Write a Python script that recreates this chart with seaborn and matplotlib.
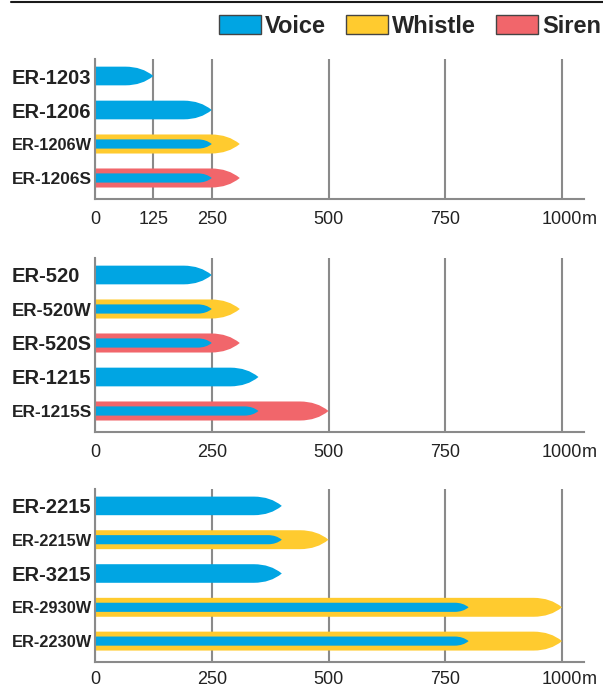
import matplotlib
matplotlib.use("Agg")
import matplotlib.pyplot as plt
import seaborn as sns
import pandas as pd
from matplotlib.patches import PathPatch, Patch
from matplotlib.path import Path
from matplotlib.lines import Line2D

# ---- data (ranges in metres) ----
models_1 = ["ER-1203", "ER-1206", "ER-1206W", "ER-1206S"]
voice_1 = [125, 250, 250, 250]
alarm_type_1 = [None, None, "Whistle", "Siren"]
alarm_1 = [0, 0, 310, 310]
ticks_1 = [0, 125, 250, 500, 750, 1000]

models_2 = ["ER-520", "ER-520W", "ER-520S", "ER-1215", "ER-1215S"]
voice_2 = [250, 250, 250, 350, 350]
alarm_type_2 = [None, "Whistle", "Siren", None, "Siren"]
alarm_2 = [0, 310, 310, 0, 500]
ticks_2 = [0, 250, 500, 750, 1000]

models_3 = ["ER-2215", "ER-2215W", "ER-3215", "ER-2930W", "ER-2230W"]
voice_3 = [400, 400, 400, 800, 800]
alarm_type_3 = [None, "Whistle", None, "Whistle", "Whistle"]
alarm_3 = [0, 500, 0, 1000, 1000]
ticks_3 = [0, 250, 500, 750, 1000]

colors = {"Voice": "#00a5e3", "Whistle": "#ffcb2f", "Siren": "#f1666b"}
grid_gray = "#8a8a8a"
text_col = "#222222"

sns.set_style("white")
plt.rcParams["font.family"] = ["Liberation Sans", "DejaVu Sans"]

W, H = 603, 689
fig = plt.figure(figsize=(W / 100, H / 100), dpi=100)

X_LEFT, X_RIGHT = 95, 584
XMAX = 1000 * (X_RIGHT - X_LEFT) / (562 - X_LEFT)
LABEL_X = 12      # left edge of the model names, px
LABEL_W = 80      # max width of a model name, px


def bulletize(ax, rect, tip=1.5):
    x0, y0 = rect.get_x(), rect.get_y()
    w, h = rect.get_width(), rect.get_height()
    (px0, py0), (px1, py1) = ax.transData.transform([(x0, y0), (x0 + w, y0 + h)])
    lo, hi = min(py0, py1), max(py0, py1)
    L = min(tip * (hi - lo), px1 - px0)
    yc = (lo + hi) / 2
    verts = [(px0, hi), (px1 - L, hi), (px1 - 0.4 * L, hi), (px1, yc),
             (px1 - 0.4 * L, lo), (px1 - L, lo), (px0, lo), (px0, hi)]
    codes = [Path.MOVETO, Path.LINETO, Path.CURVE3, Path.CURVE3,
             Path.CURVE3, Path.CURVE3, Path.LINETO, Path.CLOSEPOLY]
    verts = ax.transData.inverted().transform(verts)
    p = PathPatch(Path(verts, codes), facecolor=rect.get_facecolor(),
                  edgecolor="none", zorder=2)
    rect.remove()
    ax.add_patch(p)


def panel(top_px, models, voice, alarm_type, alarm, ticks, row=34.0, xpad=4.8):
    n = len(models)
    h_px = (n - 1 + 0.5 + 0.62) * row
    ax = fig.add_axes([X_LEFT / W, 1 - (top_px + h_px) / H,
                       (X_RIGHT - X_LEFT) / W, h_px / H])

    outer = pd.DataFrame({"model": [m for m, t in zip(models, alarm_type) if t],
                          "range": [a for a, t in zip(alarm, alarm_type) if t],
                          "signal": [t for t in alarm_type if t]})
    solo = pd.DataFrame({"model": [m for m, t in zip(models, alarm_type) if not t],
                         "range": [v for v, t in zip(voice, alarm_type) if not t],
                         "signal": "Voice"})
    inner = pd.DataFrame({"model": [m for m, t in zip(models, alarm_type) if t],
                          "range": [v for v, t in zip(voice, alarm_type) if t],
                          "signal": "Voice"})

    for df, wd in [(outer, 0.56), (solo, 0.55), (inner, 0.27)]:
        if len(df):
            sns.barplot(data=df, x="range", y="model", hue="signal", order=models,
                        palette=colors, orient="h", width=wd, dodge=False,
                        saturation=1, errorbar=None, linewidth=0, legend=False, ax=ax)

    ax.set_xlim(0, XMAX)
    ax.set_ylim(n - 1 + 0.62, -0.5)
    ax.set_xticks(ticks)
    ax.set_xticklabels([str(t) for t in ticks])
    ax.set_xlabel("")
    ax.set_ylabel("")
    ax.grid(axis="x", color=grid_gray, lw=1.5)
    ax.set_axisbelow(True)
    sns.despine(ax=ax)
    for s in ["left", "bottom"]:
        ax.spines[s].set_color(grid_gray)
        ax.spines[s].set_linewidth(1.5)
    ax.tick_params(axis="x", length=4, width=1.5, color=grid_gray, pad=xpad,
                   labelsize=13, labelcolor=text_col)
    ax.xaxis.get_major_ticks()[0].tick1line.set_visible(False)
    # model names left-aligned at LABEL_X
    ax.tick_params(axis="y", length=0, pad=(X_LEFT - LABEL_X) * 0.72,
                   labelcolor=text_col)
    for lab in ax.get_yticklabels():
        lab.set_fontweight("bold")
        lab.set_fontsize(14.5)
        lab.set_horizontalalignment("left")
    # unit glued to the last tick label
    ax.annotate("m", xy=(1, 0), xycoords=ax.get_xticklabels()[-1],
                xytext=(-0.5, 0), textcoords="offset points",
                ha="left", va="bottom", fontsize=13, color=text_col)

    for r in list(ax.patches):
        bulletize(ax, r)
    return ax


axes = [panel(59, models_1, voice_1, alarm_type_1, alarm_1, ticks_1),
        panel(258, models_2, voice_2, alarm_type_2, alarm_2, ticks_2),
        panel(489, models_3, voice_3, alarm_type_3, alarm_3, ticks_3, row=33.8, xpad=2.5)]

# squeeze long model names to the reference width
renderer = fig.canvas.get_renderer()
for ax in axes:
    for lab in ax.get_yticklabels():
        wpx = lab.get_window_extent(renderer).width
        if wpx > LABEL_W:
            lab.set_fontsize(lab.get_fontsize() * LABEL_W / wpx)

# top rule and legend
fig.add_artist(Line2D([11 / W, 1], [1 - 1.5 / H] * 2, transform=fig.transFigure,
                      color="#1a1a1a", lw=1.5))
handles = [Patch(facecolor=c, edgecolor="#444444", lw=1) for c in colors.values()]
fig.legend(handles, list(colors.keys()), loc="upper right",
           bbox_to_anchor=(601 / W, 1 - 15 / H), ncol=3, frameon=False,
           prop={"weight": "bold", "size": 17}, handlelength=1.8, handleheight=0.85,
           handletextpad=0.15, columnspacing=0.85, borderpad=0, borderaxespad=0)

fig.savefig("out.png", dpi=100)
